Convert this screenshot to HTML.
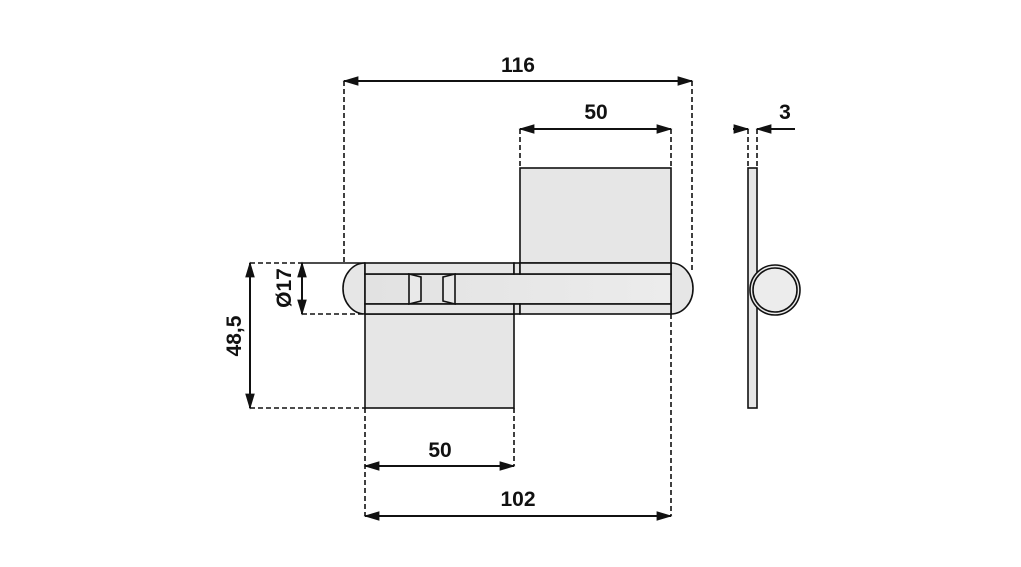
<!DOCTYPE html>
<html><head><meta charset="utf-8"><style>
html,body{margin:0;padding:0;background:#fff;}
svg{display:block;}
text{font-family:"Liberation Sans",sans-serif;font-weight:bold;font-size:21px;fill:#111;}
</style></head><body>
<svg width="1021" height="567" viewBox="0 0 1021 567" xmlns="http://www.w3.org/2000/svg">
<defs>
<marker id="a" viewBox="0 0 10 10" refX="9" refY="5" markerWidth="8" markerHeight="8" orient="auto-start-reverse"><path d="M0,2 L10,5 L0,8 z" fill="#111"/></marker>
<linearGradient id="g" x1="0" y1="0" x2="1" y2="0"><stop offset="0" stop-color="#e2e2e2"/><stop offset="1" stop-color="#ececec"/></linearGradient>
</defs>
<g stroke="#111" stroke-width="1.6" stroke-dasharray="5,3" fill="none">
<path d="M344,81V263M692,81V270M520,129V168M671,129V168M748,129V168M757,129V168"/>
<path d="M250,263H365M250,408H365M302,263H365M302,314H365"/>
<path d="M365,408V516M514,408V466M671,314V516"/>
</g>
<g stroke="#111" stroke-width="2" fill="none">
<line x1="344" y1="81" x2="692" y2="81" marker-start="url(#a)" marker-end="url(#a)"/>
<line x1="520" y1="129" x2="671" y2="129" marker-start="url(#a)" marker-end="url(#a)"/>
<line x1="250" y1="263" x2="250" y2="408" marker-start="url(#a)" marker-end="url(#a)"/>
<line x1="302" y1="263" x2="302" y2="314" marker-start="url(#a)" marker-end="url(#a)"/>
<line x1="365" y1="466" x2="514" y2="466" marker-start="url(#a)" marker-end="url(#a)"/>
<line x1="365" y1="516" x2="671" y2="516" marker-start="url(#a)" marker-end="url(#a)"/>
<line x1="733" y1="129" x2="748" y2="129" marker-end="url(#a)"/>
<line x1="795" y1="129" x2="757" y2="129" marker-end="url(#a)"/>
</g>
<g stroke="#111" stroke-width="1.6" fill="#e6e6e6">
<rect x="520" y="168" width="151" height="95"/>
<rect x="365" y="314" width="149" height="94"/>
<path d="M365,263 A22,25.5 0 0 0 365,314 Z"/>
<path d="M671,263 A22,25.5 0 0 1 671,314 Z"/>
<rect x="365" y="274" width="306" height="30" fill="url(#g)"/>
<rect x="365" y="263" width="149" height="11"/>
<rect x="514" y="263" width="6" height="11"/>
<rect x="520" y="263" width="151" height="11"/>
<rect x="365" y="304" width="149" height="10"/>
<rect x="514" y="304" width="6" height="10"/>
<rect x="520" y="304" width="151" height="10"/>
<path d="M409,274 L421,277 L421,301 L409,304 Z" fill="#e9e9e9"/>
<path d="M455,274 L443,277 L443,301 L455,304 Z" fill="#e9e9e9"/>
<rect x="748" y="168" width="9" height="240"/>
<circle cx="775" cy="290" r="25" fill="#ececec"/>
<circle cx="775" cy="290" r="22" fill="#ececec"/>
</g>
<text x="518" y="72" text-anchor="middle">116</text>
<text x="596" y="119" text-anchor="middle">50</text>
<text x="785" y="119" text-anchor="middle">3</text>
<text x="440" y="457" text-anchor="middle">50</text>
<text x="518" y="506" text-anchor="middle">102</text>
<text transform="translate(241,336) rotate(-90)" text-anchor="middle">48,5</text>
<text transform="translate(291,288) rotate(-90)" text-anchor="middle">Ø17</text>
</svg>
</body></html>
